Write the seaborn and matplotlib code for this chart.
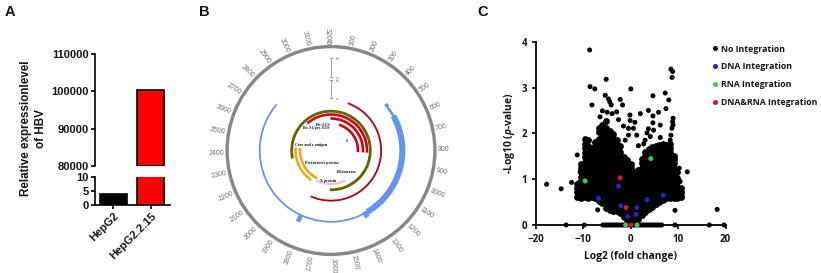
"""
plot.py
Three panel figure: HBV expression bars, HBV genome circle, integration volcano plot.
"""
import numpy as np
import pandas as pd
import matplotlib
matplotlib.use("Agg")
import matplotlib.pyplot as plt
import seaborn as sns

# ─── panel A data ─────────────────────────────────────────────────────────────
cell_lines = ["HepG2", "HepG2.2.15"]
expression = [4, 100500]
bar_colors = ["#000000", "#ff0000"]

# ─── panel B data ─────────────────────────────────────────────────────────────
GENOME_LEN = 3215
genome_ticks = [0, 100, 200, 300, 400, 500, 600, 700, 800, 900, 1000, 1100, 1200, 1300, 1400, 1500,
                1600, 1700, 1800, 1900, 2000, 2100, 2200, 2300, 2400, 2500, 2600, 2700, 2800, 2900,
                3000, 3100, 3200]
blue_start = [443, 443, 470, 545, 1335, 1815]
blue_end = [2771, 470, 545, 1335, 1370, 1845]
red_arc = [175, 1822]
olive_start = [2307, 0]
olive_end = [3215, 1623]
surface_start = [2848, 3205, 155]
surface_end = [3215, 3215, 835]
surface_wrap_end = [835, 835]
core_start = [1908, 1845]
core_end = [2452, 2452]
x_gene = [1380, 1850]
scale_labels = ["10", "0", "10", "0"]
gene_labels = ["Pre-S2/S", "Pre-S1/pre-S2/S", "S", "Core and e antigen",
               "Precursores protein", "Polymerase", "X protein"]

# ─── panel C data ─────────────────────────────────────────────────────────────
mass_x = [-11.25, -10.5, -9.75, -9.0, -8.25, -7.5, -6.75, -6.0, -5.25, -4.5, -3.75, -3.0, -2.25, -1.5, -0.75,
          0.0, 0.75, 1.5, 2.25, 3.0, 3.75, 4.5, 5.25, 6.0, 6.75, 7.5, 8.25, 9.0, 9.75, 10.5]
mass_y = [
    [.62, .71, .80, .90],
    [.60, .66, .76, .85, .95, 1.05, 1.15, 1.24, 1.33],
    [.61, .71, .80, .90, 1.00, 1.09, 1.19, 1.29, 1.38, 1.48, 1.58, 1.67, 1.77, 1.87],
    [.60, .66, .76, .85, .95, 1.04, 1.14, 1.24, 1.33, 1.43, 1.52, 1.62, 1.72, 1.86],
    [.61, .71, .80, .90, 1.00, 1.09, 1.19, 1.28, 1.38, 1.48, 1.57, 1.67],
    [.58, .66, .76, .85, .95, 1.04, 1.14, 1.24, 1.33, 1.43, 1.52, 1.62, 1.72, 1.82],
    [.52, .61, .71, .80, .90, 1.00, 1.09, 1.19, 1.28, 1.38, 1.48, 1.57, 1.67, 1.77, 1.88, 2.02, 2.12],
    [.47, .56, .66, .76, .85, .95, 1.04, 1.14, 1.24, 1.33, 1.43, 1.52, 1.62, 1.72, 1.81, 1.91, 2.05, 2.18],
    [.38, .47, .57, .66, .76, .85, .95, 1.04, 1.14, 1.23, 1.33, 1.42, 1.52, 1.61, 1.71, 1.80, 1.90, 2.00, 2.12, 2.28],
    [.32, .42, .52, .61, .71, .80, .90, 1.00, 1.09, 1.19, 1.28, 1.38, 1.47, 1.57, 1.66, 1.76, 1.85, 1.95, 2.05],
    [.30, .38, .47, .57, .66, .76, .85, .95, 1.04, 1.14, 1.23, 1.33, 1.42, 1.52, 1.61, 1.71, 1.80, 1.89, 1.98],
    [.30, .40, .50, .59, .69, .78, .88, .97, 1.07, 1.16, 1.26, 1.35, 1.45, 1.54, 1.64, 1.74, 1.85],
    [.27, .36, .46, .55, .65, .74, .84, .93, 1.03, 1.12, 1.22, 1.31, 1.41, 1.50, 1.60, 1.73],
    [.17, .27, .37, .46, .56, .65, .75, .84, .94, 1.03, 1.13, 1.22, 1.32, 1.40, 1.48],
    [.10, .18, .28, .37, .47, .56, .66, .75, .85, .94, 1.04, 1.13, 1.23, 1.32, 1.42],
    [.05, .12, .22, .31, .41, .50, .60, .69, .79, .88, .98, 1.07, 1.17, 1.25, 1.33],
    [.08, .17, .27, .36, .46, .55, .65, .74, .84, .93, 1.03, 1.15],
    [.13, .22, .32, .41, .51, .60, .70, .79, .89, .98, 1.08, 1.20],
    [.22, .30, .40, .49, .59, .68, .78, .87, .97, 1.06, 1.16, 1.25, 1.35, 1.45],
    [.28, .37, .47, .56, .66, .75, .85, .94, 1.04, 1.13, 1.23, 1.32, 1.42, 1.51, 1.60],
    [.35, .43, .53, .62, .72, .81, .91, 1.00, 1.10, 1.19, 1.29, 1.38, 1.48, 1.57, 1.66],
    [.40, .49, .59, .68, .78, .87, .97, 1.06, 1.16, 1.25, 1.35, 1.44, 1.54, 1.63, 1.70],
    [.45, .54, .64, .73, .83, .92, 1.02, 1.11, 1.21, 1.30, 1.40, 1.49, 1.59, 1.68, 1.72],
    [.50, .58, .68, .77, .87, .96, 1.06, 1.15, 1.25, 1.34, 1.44, 1.53, 1.63, 1.72, 1.75],
    [.55, .63, .73, .82, .92, 1.01, 1.11, 1.20, 1.30, 1.39, 1.49, 1.58, 1.68, 1.76],
    [.60, .68, .78, .87, .97, 1.06, 1.16, 1.25, 1.35, 1.44, 1.54, 1.63, 1.75],
    [.60, .65, .75, .84, .94, 1.03, 1.13, 1.22, 1.32, 1.41, 1.51, 1.60, 1.69, 1.76],
    [.60, .68, .78, .87, .97, 1.06, 1.16, 1.25, 1.35, 1.43, 1.50],
    [.60, .66, .75, .84, .94, 1.03, 1.15],
    [.62, .71, .80],
]
sparse_x = [-8.7, 8.45, 8.8, 8.7, -5.2, -8.6, -7.6, 0.0, 7.25, -5.4, 4.65, 8.0, -2.25, -4.7, -4.45, -4.15, -8.2,
            -1.75, 7.4, 3.7, 5.85, -6.0, -5.0, -3.0, -3.95, 2.0, -0.2, 4.65, -6.5, -2.6, 8.9, 8.8, 8.9, -0.15,
            0.85, 4.65, 6.2, 3.7, -1.55, -0.5, 0.55, 8.65, 8.45, 4.8, 3.4, 4.1, 6.2, 1.25, -0.5, -1.2, 1.6, 3.0,
            8.3, 2.7, 10.2, 11.9, 10.4, 10.0, 10.8, -11.3, -10.7, -12.5, -17.75, -14.7, -11.0, -7.0, 9.3, 18.2]
sparse_y = [3.82, 3.40, 3.35, 3.22, 3.18, 3.02, 2.97, 2.97, 2.88, 2.83, 2.82, 2.73, 2.74, 2.75, 2.69, 2.62, 2.62,
            2.62, 2.54, 2.50, 2.46, 2.49, 2.46, 2.47, 2.43, 2.43, 2.40, 2.38, 2.36, 2.30, 2.33, 2.25, 2.18, 2.28,
            2.24, 2.23, 2.18, 2.10, 2.16, 2.11, 2.11, 2.11, 1.96, 2.07, 2.01, 1.93, 1.91, 1.96, 1.96, 1.85, 1.73,
            1.85, 1.85, 1.77, 1.24, 1.16, 0.95, 0.80, 0.65, 1.53, 1.16, 0.93, 0.89, 0.79, 0.92, 0.33, 0.32, 0.34]
zero_x = [-13.65, -9.8, -5.9, -5.5, -5.1, -4.7, -4.3, -3.9, -3.5, -3.1, -2.7, -2.3, -1.9, -1.5, -1.1, -0.7, -0.3,
          0.1, 0.5, 0.9, 1.3, 1.7, 2.1, 2.5, 2.9, 3.3, 3.7, 4.1, 4.5, 4.9, 5.3, 5.7, 6.1, 6.5, 9.3, 16.55, 19.65]
dna_x = [-6.8, -2.6, -2.1, 3.4, 6.85, 1.27, 1.1, -0.7]
dna_y = [0.58, 0.85, 0.42, 0.55, 0.65, 0.38, 0.23, 0.18]
rna_x = [-9.65, 4.2, -1.1, 1.3]
rna_y = [0.96, 1.45, 0.0, 0.0]
both_x = [-2.25, -1.0, 0.0]
both_y = [1.03, 0.38, 0.0]
group_names = ["No Integration", "DNA Integration", "RNA Integration", "DNA&RNA Integration"]
group_colors = ["#000000", "#2323c8", "#35cc55", "#e2142d"]
x_ticks = [-20, -10, 0, 10, 20]
y_ticks = [0, 1, 2, 3, 4]

# ─── style ────────────────────────────────────────────────────────────────────
sns.set_theme(style="white")
plt.rcParams["font.family"] = ["Open Sans", "DejaVu Sans"]
plt.rcParams["mathtext.fontset"] = "custom"
plt.rcParams["mathtext.bfit"] = "Open Sans:italic:bold"

W, H = 821, 273
fig = plt.figure(figsize=(W / 100, H / 100), dpi=100, facecolor="white")
INK = "#151515"


def add_axes_px(left, top, right, bottom, **kw):
    """Axes from pixel edges, measured from the top left of the picture."""
    return fig.add_axes([left / W, 1 - bottom / H, (right - left) / W, (bottom - top) / H], **kw)


def fig_text(x, y, s, **kw):
    fig.text(x / W, 1 - y / H, s, **kw)


# ─── panel A ──────────────────────────────────────────────────────────────────
AFONT = "Liberation Sans"
bars = pd.DataFrame({"cell": cell_lines, "value": expression})
ax_low = add_axes_px(95, 177.3, 170, 204.7)
ax_top = add_axes_px(95, 54.3, 170, 165.7)
for ax in (ax_low, ax_top):
    sns.barplot(data=bars, x="cell", y="value", hue="cell", palette=bar_colors, width=0.72, saturation=1,
                edgecolor="black", linewidth=1.2, legend=False, ax=ax)
    ax.set_xlim(-0.493, 1.507)
    ax.set_xlabel("")
    ax.set_ylabel("")
    sns.despine(ax=ax)
    ax.patch.set_alpha(0)
    for side in ("left", "bottom"):
        ax.spines[side].set_linewidth(1.2)
        ax.spines[side].set_color("black")
    ax.tick_params(axis="both", length=3, width=1.2, color="black", left=True, bottom=True, pad=1.5)
ax_low.set_ylim(0, 10)
ax_low.set_yticks([0, 5, 10])
ax_top.set_ylim(80000, 110000)
ax_top.set_yticks([80000, 90000, 100000, 110000])
ax_top.spines["bottom"].set_visible(False)
ax_top.tick_params(axis="x", bottom=False, labelbottom=False)
# the upper part of the broken bar is closed at the break
ax_top.patches[0].set_visible(False)
ax_top.patches[1].set_y(80000)
ax_top.patches[1].set_height(expression[1] - 80000)
for ax in (ax_low, ax_top):
    for lab in ax.get_yticklabels():
        lab.set(family=AFONT, fontweight="bold", fontsize=8, color=INK)
ax_low.set_xticks([0, 1])
ax_low.set_xticklabels(cell_lines, rotation=45, ha="right", rotation_mode="anchor",
                       family=AFONT, fontweight="bold", fontsize=8, color=INK)
fig_text(33.5, 128.7, "Relative expressionlevel\nof HBV", rotation=90, ha="center", va="center",
         family=AFONT, fontweight="bold", fontsize=8.4, color=INK, linespacing=1.3)

# ─── panel B ──────────────────────────────────────────────────────────────────
CX, CY, RMAX = 331, 150.5, 122


def to_theta(bp):
    return np.asarray(bp, dtype=float) / GENOME_LEN * 2 * np.pi


def arc(ax, start, end, r0, r1, color):
    """Genome feature from start to end (bp) between radii r0 and r1 (pixels)."""
    ax.bar(to_theta((start + end) / 2), r1 - r0, width=to_theta(end - start), bottom=r0,
           color=color, linewidth=0)


ax_c = add_axes_px(CX - RMAX, CY - RMAX, CX + RMAX, CY + RMAX, projection="polar")
ax_c.set_theta_zero_location("N")
ax_c.set_theta_direction(-1)
ax_c.set_ylim(0, RMAX)
ax_c.set_xlim(0, 2 * np.pi)
ax_c.axis("off")
ax_c.patch.set_alpha(0)

arc(ax_c, 0, GENOME_LEN, 102.2, 105.6, "#878787")
for bp in genome_ticks:
    a = bp / GENOME_LEN * 360
    right_side = a <= 180
    rot = 90 - a if right_side else 270 - a
    ax_c.text(to_theta(bp), 107, str(bp), rotation=rot, rotation_mode="anchor", fontsize=5,
              ha="left" if right_side else "right", va="center", color="#6e6e6e",
              family="Liberation Sans")

blue_r0 = [70.4, 70.0, 70.0, 68.3, 69.5, 71.0]
blue_r1 = [72.2, 73.5, 72.5, 74.4, 76.0, 78.5]
for s, e, r0, r1 in zip(blue_start, blue_end, blue_r0, blue_r1):
    arc(ax_c, s, e, r0, r1, "#6495ed")
arc(ax_c, red_arc[0], red_arc[1], 49.2, 51.1, "#a50f1e")
for s, e in zip(olive_start, olive_end):
    arc(ax_c, s, e, 37.9, 40.7, "#5f6600")
for s, e, r in zip(surface_start, surface_end, [36, 32, 27]):
    arc(ax_c, s, e, r - 1.3, r + 1.3, "#cc0012")
for e, r in zip(surface_wrap_end, [36, 32]):
    arc(ax_c, 0, e, r - 1.3, r + 1.3, "#cc0012")
for s, e, r in zip(core_start, core_end, [35.5, 31]):
    arc(ax_c, s, e, r - 1.3, r + 1.3, "#eea616")
arc(ax_c, x_gene[0], x_gene[1], 32, 34.6, "#f5c6d0")

# scale bar above the tracks
for r_pair in ([92.6, 73.6], [70.3, 52.6]):
    ax_c.plot([0, 0], r_pair, color="#9a9a9a", lw=0.6, marker="_", ms=2.5, mew=0.5)
for r, lab in zip([92.6, 73.6, 70.3, 52.6], scale_labels):
    ax_c.annotate(lab, (0, r), xytext=(2, 0), textcoords="offset points", fontsize=2.8,
                  rotation=-90, ha="left", va="center", color="#777777", family="Liberation Sans")

gene_x = [323.3, 316.7, 347.3, 310.7, 321.7, 346.7, 328.3]
gene_y = [124.7, 128.3, 141.3, 145, 163.3, 171.7, 181]
for gx, gy, lab in zip(gene_x, gene_y, gene_labels):
    fig_text(gx, gy, lab, ha="center", va="center", family="Liberation Serif",
             fontweight="bold", fontsize=2.9, color="#111111")

# ─── panel C ──────────────────────────────────────────────────────────────────
# the dense cloud gets a bigger marker so it closes up the way the original does
mass = pd.DataFrame({"fc": [x for x, ys in zip(mass_x, mass_y) for _ in ys],
                     "p": [y for ys in mass_y for y in ys]})
black_x = sparse_x + zero_x
black_y = sparse_y + [0.0 for _ in zero_x]
frames = [
    pd.DataFrame({"fc": black_x, "p": black_y, "group": group_names[0]}),
    pd.DataFrame({"fc": dna_x, "p": dna_y, "group": group_names[1]}),
    pd.DataFrame({"fc": rna_x, "p": rna_y, "group": group_names[2]}),
    pd.DataFrame({"fc": both_x, "p": both_y, "group": group_names[3]}),
]
volcano = pd.concat(frames, ignore_index=True)

ax_v = add_axes_px(536, 41.7, 725.7, 225)
sns.scatterplot(data=mass, x="fc", y="p", color="black", s=24, linewidth=0, zorder=3, ax=ax_v)
sns.scatterplot(data=volcano, x="fc", y="p", hue="group", hue_order=group_names, palette=group_colors,
                s=13, linewidth=0, clip_on=False, zorder=4, ax=ax_v)
ax_v.set_xlim(-20, 20)
ax_v.set_ylim(0, 4)
ax_v.set_xticks(x_ticks)
ax_v.set_yticks(y_ticks)
sns.despine(ax=ax_v)
for side in ("left", "bottom"):
    ax_v.spines[side].set_linewidth(1.3)
    ax_v.spines[side].set_color("black")
ax_v.tick_params(axis="both", length=3, width=1.2, color="black", left=True, bottom=True, pad=3.5,
                 labelsize=7)
for lab in ax_v.get_xticklabels() + ax_v.get_yticklabels():
    lab.set(fontweight="bold", color=INK)
ax_v.set_xlabel("Log2 (fold change)", fontsize=7.4, fontweight="bold", color=INK, labelpad=4)
ax_v.set_ylabel(r"-Log10 ($\mathbfit{p}$-value)", fontsize=7.4, fontweight="bold", color=INK, labelpad=3)

handles, labels = ax_v.get_legend_handles_labels()
ax_v.legend(handles, labels, loc="upper left", bbox_to_anchor=(710 / W, 1 - 44.5 / H),
            bbox_transform=fig.transFigure, frameon=False, borderpad=0, borderaxespad=0,
            handletextpad=0.1, handlelength=1.2, labelspacing=1.0,
            prop={"weight": "bold", "size": 6.35, "family": "Open Sans"}, labelcolor=INK)

# ─── panel letters ────────────────────────────────────────────────────────────
for lx, letter in zip([5, 199, 477], ["A", "B", "C"]):
    fig_text(lx, 11.5, letter, ha="left", va="center", family=AFONT, fontweight="bold",
             fontsize=10.5, color="#111111")

fig.savefig("out.png", dpi=100, facecolor="white")
plt.close(fig)
